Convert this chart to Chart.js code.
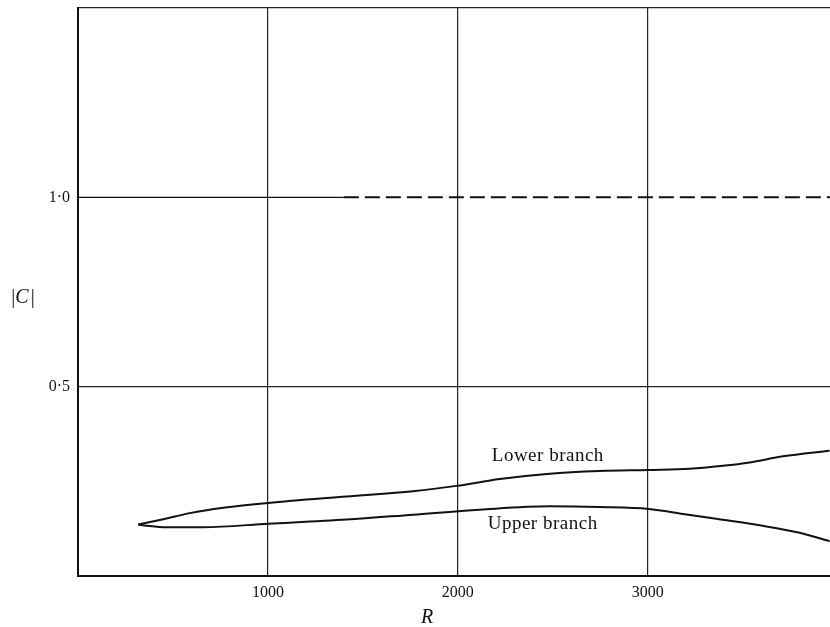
<!DOCTYPE html>
<html>
<head>
<meta charset="utf-8">
<script src="https://cdn.jsdelivr.net/npm/chart.js@4.4.1/dist/chart.umd.min.js"></script>
<style>
  body { margin: 0; background: #fff; }
  #wrap { width: 830px; height: 627px; }
</style>
</head>
<body>
<div id="wrap"><canvas id="grafico"></canvas></div>
<script>
// valores (R, |C|)
const lowerBranchR = [317, 449, 589, 765, 1002, 1414, 1765, 1993, 2221, 2484, 2747, 3005, 3221, 3396, 3537, 3712, 3958];
const lowerBranchC = [0.136, 0.150, 0.166, 0.180, 0.193, 0.210, 0.224, 0.238, 0.256, 0.270, 0.277, 0.280, 0.283, 0.291, 0.300, 0.316, 0.331];

const upperBranchR = [317, 362, 467, 659, 1002, 1414, 1765, 2116, 2484, 2747, 3005, 3186, 3361, 3625, 3800, 3958];
const upperBranchC = [0.136, 0.133, 0.129, 0.129, 0.138, 0.149, 0.162, 0.175, 0.184, 0.182, 0.177, 0.164, 0.151, 0.131, 0.114, 0.092];

// linha |C| = 1 (solida ate ~1400, depois tracejada)
const unitLineR = [0, 1400, 3960];
const unitLineC = [1, 1, 1];

const rTicks = [1000, 2000, 3000];
const cTicks = [0.5, 1.0];
const cTickLabels = ['0·5', '1·0'];

function pontos(xs, ys) {
    return xs.map(function (x, i) { return { x: x, y: ys[i] }; });
}

const serif = '"Liberation Serif", "DejaVu Serif", serif';
const tinta = '#111';

const textos = {
    id: 'textos',
    afterDatasetsDraw(chart) {
        const c = chart.ctx;
        const x = chart.scales.x;
        const y = chart.scales.y;
        c.save();
        c.fillStyle = tinta;
        c.textBaseline = 'middle';
        c.textAlign = 'center';
        c.font = '19px ' + serif;
        c.letterSpacing = '0.5px';
        c.fillText('Lower branch', x.getPixelForValue(2474), y.getPixelForValue(0.317));
        c.fillText('Upper branch', x.getPixelForValue(2447), y.getPixelForValue(0.138));
        c.letterSpacing = '0px';

        // titulo do eixo x
        c.font = 'italic 20px ' + serif;
        c.fillText('R', 427, 618);

        // titulo do eixo y: |C|
        c.textAlign = 'left';
        c.font = '20px ' + serif;
        const wBar = c.measureText('|').width;
        c.font = 'italic 20px ' + serif;
        const wC = c.measureText('C').width;
        let px = 23 - (wBar * 2 + wC + 2) / 2;
        c.font = '20px ' + serif;
        c.fillText('|', px, 298);
        px += wBar;
        c.font = 'italic 20px ' + serif;
        c.fillText('C', px, 298);
        px += wC + 2;
        c.font = '20px ' + serif;
        c.fillText('|', px, 298);
        c.restore();
    }
};

new Chart(document.getElementById('grafico'), {
    type: 'line',
    data: {
        datasets: [{
            label: 'Lower branch',
            data: pontos(lowerBranchR, lowerBranchC),
            borderColor: tinta,
            borderWidth: 2,
            pointRadius: 0,
            cubicInterpolationMode: 'monotone',
            fill: false
        }, {
            label: 'Upper branch',
            data: pontos(upperBranchR, upperBranchC),
            borderColor: tinta,
            borderWidth: 2,
            pointRadius: 0,
            cubicInterpolationMode: 'monotone',
            fill: false
        }, {
            label: '|C| = 1',
            data: pontos(unitLineR, unitLineC),
            borderColor: tinta,
            borderWidth: 1.3,
            pointRadius: 0,
            fill: false,
            segment: {
                borderDash: ctx => ctx.p0DataIndex === 1 ? [15, 6] : undefined,
                borderWidth: ctx => ctx.p0DataIndex === 1 ? 2 : 1.3
            }
        }]
    },
    options: {
        responsive: true,
        maintainAspectRatio: false,
        animation: false,
        layout: { padding: { top: 8, right: 0, left: 0, bottom: 0 } },
        plugins: {
            legend: { display: false },
            tooltip: { enabled: false }
        },
        scales: {
            x: {
                type: 'linear',
                min: 0,
                max: 3960,
                afterBuildTicks: s => { s.ticks = [0].concat(rTicks).map(v => ({ value: v })); },
                afterFit: s => { s.height = 51; s.paddingLeft = 0; s.paddingRight = 0; },
                ticks: {
                    callback: v => v === 0 ? '' : String(v),
                    color: tinta,
                    font: { family: serif, size: 16 },
                    padding: 7,
                    maxRotation: 0,
                    autoSkip: false
                },
                grid: {
                    color: c => c.tick && c.tick.value > 0 ? '#222' : 'rgba(0,0,0,0)',
                    lineWidth: 1.2,
                    drawTicks: false
                },
                border: { color: tinta, width: 2 }
            },
            y: {
                min: 0,
                max: 1.5,
                afterBuildTicks: s => { s.ticks = [0, 0.5, 1.0, 1.5].map(v => ({ value: v })); },
                afterFit: s => { s.width = 78; s.paddingTop = 0; s.paddingBottom = 0; },
                ticks: {
                    callback: v => {
                        const i = cTicks.indexOf(v);
                        return i >= 0 ? cTickLabels[i] : '';
                    },
                    color: tinta,
                    font: { family: serif, size: 16 },
                    padding: 8,
                    autoSkip: false
                },
                grid: {
                    color: c => c.tick && (c.tick.value === 0.5 || c.tick.value === 1.5) ? '#222' : 'rgba(0,0,0,0)',
                    lineWidth: 1.2,
                    drawTicks: false
                },
                border: { color: tinta, width: 2 }
            }
        }
    },
    plugins: [textos]
});
</script>
</body>
</html>
